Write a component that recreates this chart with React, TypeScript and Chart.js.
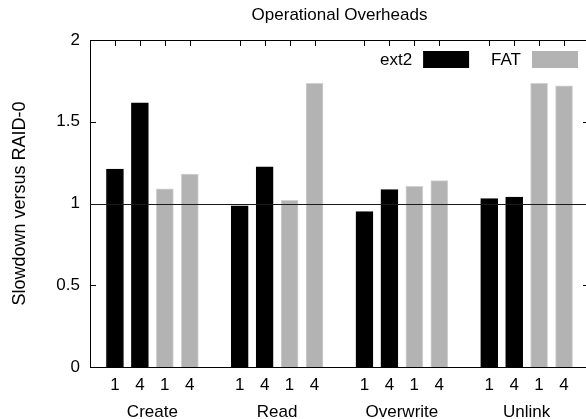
import { useEffect, useRef } from "react";
import { Chart, registerables } from "chart.js";

Chart.register(...registerables);

// ---- data ----
const TITLE = "Operational Overheads";
const Y_LABEL = "Slowdown versus RAID-0";
const GROUPS = ["Create", "Read", "Overwrite", "Unlink"];
const THREADS = ["1", "4"];
const SERIES = ["ext2", "FAT"];
// values per group, in thread order (1, 4)
const EXT2 = [1.21, 1.615, 0.985, 1.225, 0.95, 1.085, 1.03, 1.04];
const FAT = [1.09, 1.18, 1.02, 1.735, 1.105, 1.14, 1.735, 1.72];
const Y_TICKS = [0, 0.5, 1, 1.5, 2];
const BASELINE = 1;

// ---- layout helpers (slot indices, not coordinates) ----
const SLOTS_PER_GROUP = SERIES.length * THREADS.length + 1;
const slotOf = (g: number, s: number, t: number) =>
  g * SLOTS_PER_GROUP + 1 + s * THREADS.length + t;

const SERIES_VALUES = [EXT2, FAT];
const TICK_POS: number[] = [];
const TICK_LABEL: string[] = [];
GROUPS.forEach((_, g) =>
  SERIES.forEach((_, s) =>
    THREADS.forEach((th, t) => {
      TICK_POS.push(slotOf(g, s, t));
      TICK_LABEL.push(th);
    })
  )
);
const GROUP_POS = GROUPS.map((_, g) => g * SLOTS_PER_GROUP + SLOTS_PER_GROUP / 2);
const X_MAX = GROUPS.length * SLOTS_PER_GROUP;

const FONT = "'Liberation Sans', Arial, Helvetica, sans-serif";
const COLORS = ["#000000", "#b3b3b3"];
const BORDERS = ["#000000", "#d2d2d2"];

const framePlugin = {
  id: "gnuframe",
  beforeDatasetsDraw(chart: any) {
    const { ctx, chartArea: a, scales } = chart;
    const x = scales.x;
    const y = scales.y;
    ctx.save();
    ctx.strokeStyle = "#000";
    ctx.lineWidth = 1;
    ctx.beginPath();
    ctx.moveTo(a.left, Math.round(a.top) + 0.5);
    ctx.lineTo(a.right, Math.round(a.top) + 0.5);
    ctx.moveTo(Math.round(a.right) - 0.5, a.top);
    ctx.lineTo(Math.round(a.right) - 0.5, a.bottom);
    x.ticks.forEach((t: any) => {
      const px = Math.round(x.getPixelForValue(t.value)) + 0.5;
      ctx.moveTo(px, a.bottom);
      ctx.lineTo(px, a.bottom - 6);
      ctx.moveTo(px, a.top);
      ctx.lineTo(px, a.top + 6);
    });
    y.ticks.forEach((t: any) => {
      const py = Math.round(y.getPixelForValue(t.value)) + 0.5;
      ctx.moveTo(a.left, py);
      ctx.lineTo(a.left + 6, py);
      ctx.moveTo(a.right, py);
      ctx.lineTo(a.right - 6, py);
    });
    ctx.stroke();
    ctx.restore();
  },
  afterDatasetsDraw(chart: any) {
    const { ctx, chartArea: a, scales } = chart;
    const y = scales.y;
    ctx.save();
    // reference line
    const py = Math.round(y.getPixelForValue(BASELINE)) + 0.5;
    ctx.strokeStyle = "#1a1a1a";
    ctx.lineWidth = 1;
    ctx.beginPath();
    ctx.moveTo(a.left, py);
    ctx.lineTo(a.right, py);
    ctx.stroke();
    // legend (text then box), right aligned
    ctx.font = `17px ${FONT}`;
    ctx.textAlign = "right";
    ctx.textBaseline = "middle";
    ctx.fillStyle = "#000";
    const boxW = 46;
    const boxH = 17;
    const boxTop = a.top + 11;
    let right = a.right - 11;
    const ds = chart.data.datasets;
    for (let i = ds.length - 1; i >= 0; i--) {
      const d = ds[i];
      ctx.fillStyle = d.backgroundColor;
      ctx.fillRect(right - boxW, boxTop, boxW, boxH);
      const textRight = right - boxW - 11;
      ctx.fillStyle = "#000";
      ctx.fillText(d.label, textRight, boxTop + boxH / 2 + 1);
      right = textRight - ctx.measureText(d.label).width - 22;
    }
    ctx.restore();
  },
};

export default function App() {
  const ref = useRef<HTMLCanvasElement | null>(null);
  useEffect(() => {
    if (!ref.current) return;
    const datasets = SERIES.map((name, s) => ({
      label: name,
      data: GROUPS.flatMap((_, g) =>
        THREADS.map((_, t) => ({
          x: slotOf(g, s, t),
          y: SERIES_VALUES[s][g * THREADS.length + t],
        }))
      ),
      backgroundColor: COLORS[s],
      borderColor: BORDERS[s],
      borderWidth: 1,
      barThickness: 17,
      grouped: false,
    }));
    const chart = new Chart(ref.current, {
      type: "bar",
      data: { datasets } as any,
      plugins: [framePlugin],
      options: {
        animation: false,
        responsive: false,
        devicePixelRatio: 1,
        layout: { padding: { left: 0, right: 11, top: 0, bottom: 0 } },
        plugins: {
          legend: { display: false },
          tooltip: { enabled: false },
          title: {
            display: true,
            fullSize: false,
            text: TITLE,
            color: "#000",
            font: { family: FONT, size: 17, weight: "normal" },
            padding: { top: 5, bottom: 14.6 },
          },
        },
        scales: {
          x: {
            type: "linear",
            min: 0,
            max: X_MAX,
            offset: false,
            grid: { display: false, drawTicks: false, offset: false },
            border: { display: true, color: "#000", width: 1 },
            afterBuildTicks: (sc: any) => {
              sc.ticks = TICK_POS.map((v) => ({ value: v }));
            },
            afterFit: (sc: any) => {
              sc.height = 30;
            },
            ticks: {
              autoSkip: false,
              maxRotation: 0,
              padding: 8,
              color: "#000",
              font: { family: FONT, size: 17 },
              callback: (v: any) => TICK_LABEL[TICK_POS.indexOf(Number(v))] ?? "",
            },
          },
          xg: {
            type: "linear",
            position: "bottom",
            min: 0,
            max: X_MAX,
            offset: false,
            grid: { display: false, drawTicks: false },
            border: { display: false },
            afterBuildTicks: (sc: any) => {
              sc.ticks = GROUP_POS.map((v) => ({ value: v }));
            },
            afterFit: (sc: any) => {
              sc.height = 22;
            },
            ticks: {
              autoSkip: false,
              maxRotation: 0,
              padding: 5,
              color: "#000",
              font: { family: FONT, size: 17 },
              callback: (v: any) => GROUPS[GROUP_POS.indexOf(Number(v))] ?? "",
            },
          },
          y: {
            type: "linear",
            min: Y_TICKS[0],
            max: Y_TICKS[Y_TICKS.length - 1],
            grid: { display: false, drawTicks: false },
            border: { display: true, color: "#000", width: 1 },
            afterBuildTicks: (sc: any) => {
              sc.ticks = Y_TICKS.map((v) => ({ value: v }));
            },
            afterFit: (sc: any) => {
              sc.width = 90;
            },
            title: {
              display: true,
              text: Y_LABEL,
              color: "#000",
              font: { family: FONT, size: 18 },
              padding: { top: 9, bottom: 0 },
            },
            ticks: {
              padding: 10,
              color: "#000",
              font: { family: FONT, size: 17 },
              callback: (v: any) => String(v),
            },
          },
        },
      } as any,
    });
    return () => chart.destroy();
  }, []);
  return (
    <div
      style={{
        position: "fixed",
        left: 0,
        top: 0,
        width: 586,
        height: 419,
        overflow: "hidden",
        background: "#fff",
      }}
    >
      <canvas ref={ref} width={600} height={419} style={{ display: "block" }} />
    </div>
  );
}
